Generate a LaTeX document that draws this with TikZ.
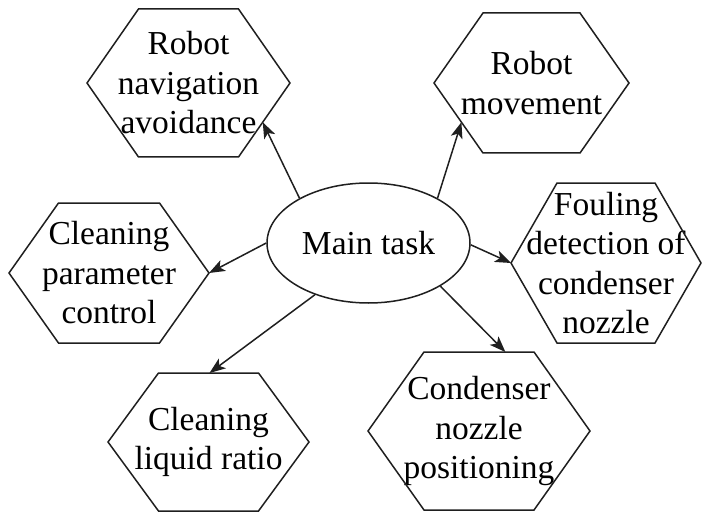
\documentclass[tikz,border=0pt]{standalone}
\usepackage{fontspec}
\setmainfont{Liberation Serif}
\newfontfamily\labelface{Liberation Serif}
\usetikzlibrary{arrows.meta,calc,shapes.geometric}

\tikzset{
  labelfont/.style={font=\labelface\fontsize{33.5}{39.5}\selectfont},
  hexlabel/.style={rectangle, draw=none, inner sep=0pt, outer sep=0pt,
    align=center, labelfont},
  hexline/.style={draw=black!88, line width=1.5pt, line join=miter},
  mainnode/.style={ellipse, draw=black!88, line width=1.5pt,
    minimum width=203pt, minimum height=120pt, inner sep=0pt, labelfont},
  link/.style={draw=black!88, line width=1.5pt,
    -{Stealth[length=16pt,width=12pt,inset=4pt]}}
}

% \hexnode{name}{x}{y}{half width}{half top edge}{half height}{text}
\newcommand{\hexnode}[7]{%
  \node[hexlabel, minimum width={2*#4pt}, minimum height={2*#6pt}] (#1) at (#2,#3) {#7};
  \coordinate (#1-nw) at ([xshift={(#4-#5)*1pt}]#1.north west);
  \coordinate (#1-ne) at ([xshift={(#5-#4)*1pt}]#1.north east);
  \coordinate (#1-sw) at ([xshift={(#4-#5)*1pt}]#1.south west);
  \coordinate (#1-se) at ([xshift={(#5-#4)*1pt}]#1.south east);
  \draw[hexline] (#1.west) -- (#1-nw) -- (#1-ne) -- (#1.east) -- (#1-se) -- (#1-sw) -- cycle;
}

\begin{document}
\begin{tikzpicture}[x=1pt, y=-1pt]
  \useasboundingbox (0,0) rectangle (703,513);

  \node[mainnode] (main) at (368.5,243) {Main task};

  \hexnode{h1}{188.5}{83}{101.5}{50}{74}{Robot\\navigation\\avoidance}
  \hexnode{h2}{531.5}{83}{97.5}{48.5}{70}{Robot\\movement}
  \hexnode{h3}{109}{273}{100}{50.5}{70}{Cleaning\\parameter\\control}
  \hexnode{h4}{606}{263}{95}{49}{80}{Fouling\\detection of\\condenser\\nozzle}
  \hexnode{h5}{208.5}{442}{100.5}{50}{69}{Cleaning\\liquid ratio}
  \hexnode{h6}{479}{431}{111}{55}{79}{Condenser\\nozzle\\positioning}

  \draw[link] (main.147) -- ($(h1.east)!0.53!(h1-se)$);
  \draw[link] (main.33) -- ($(h2.west)!0.56!(h2-sw)$);
  \draw[link] (main.180) -- (h3.east);
  \draw[link] (main.-1) -- (h4.west);
  \draw[link] (main.224) -- ($(h5-nw)!0.51!(h5-ne)$);
  \draw[link] (main.-31) -- ($(h6-nw)!0.74!(h6-ne)$);
\end{tikzpicture}
\end{document}
